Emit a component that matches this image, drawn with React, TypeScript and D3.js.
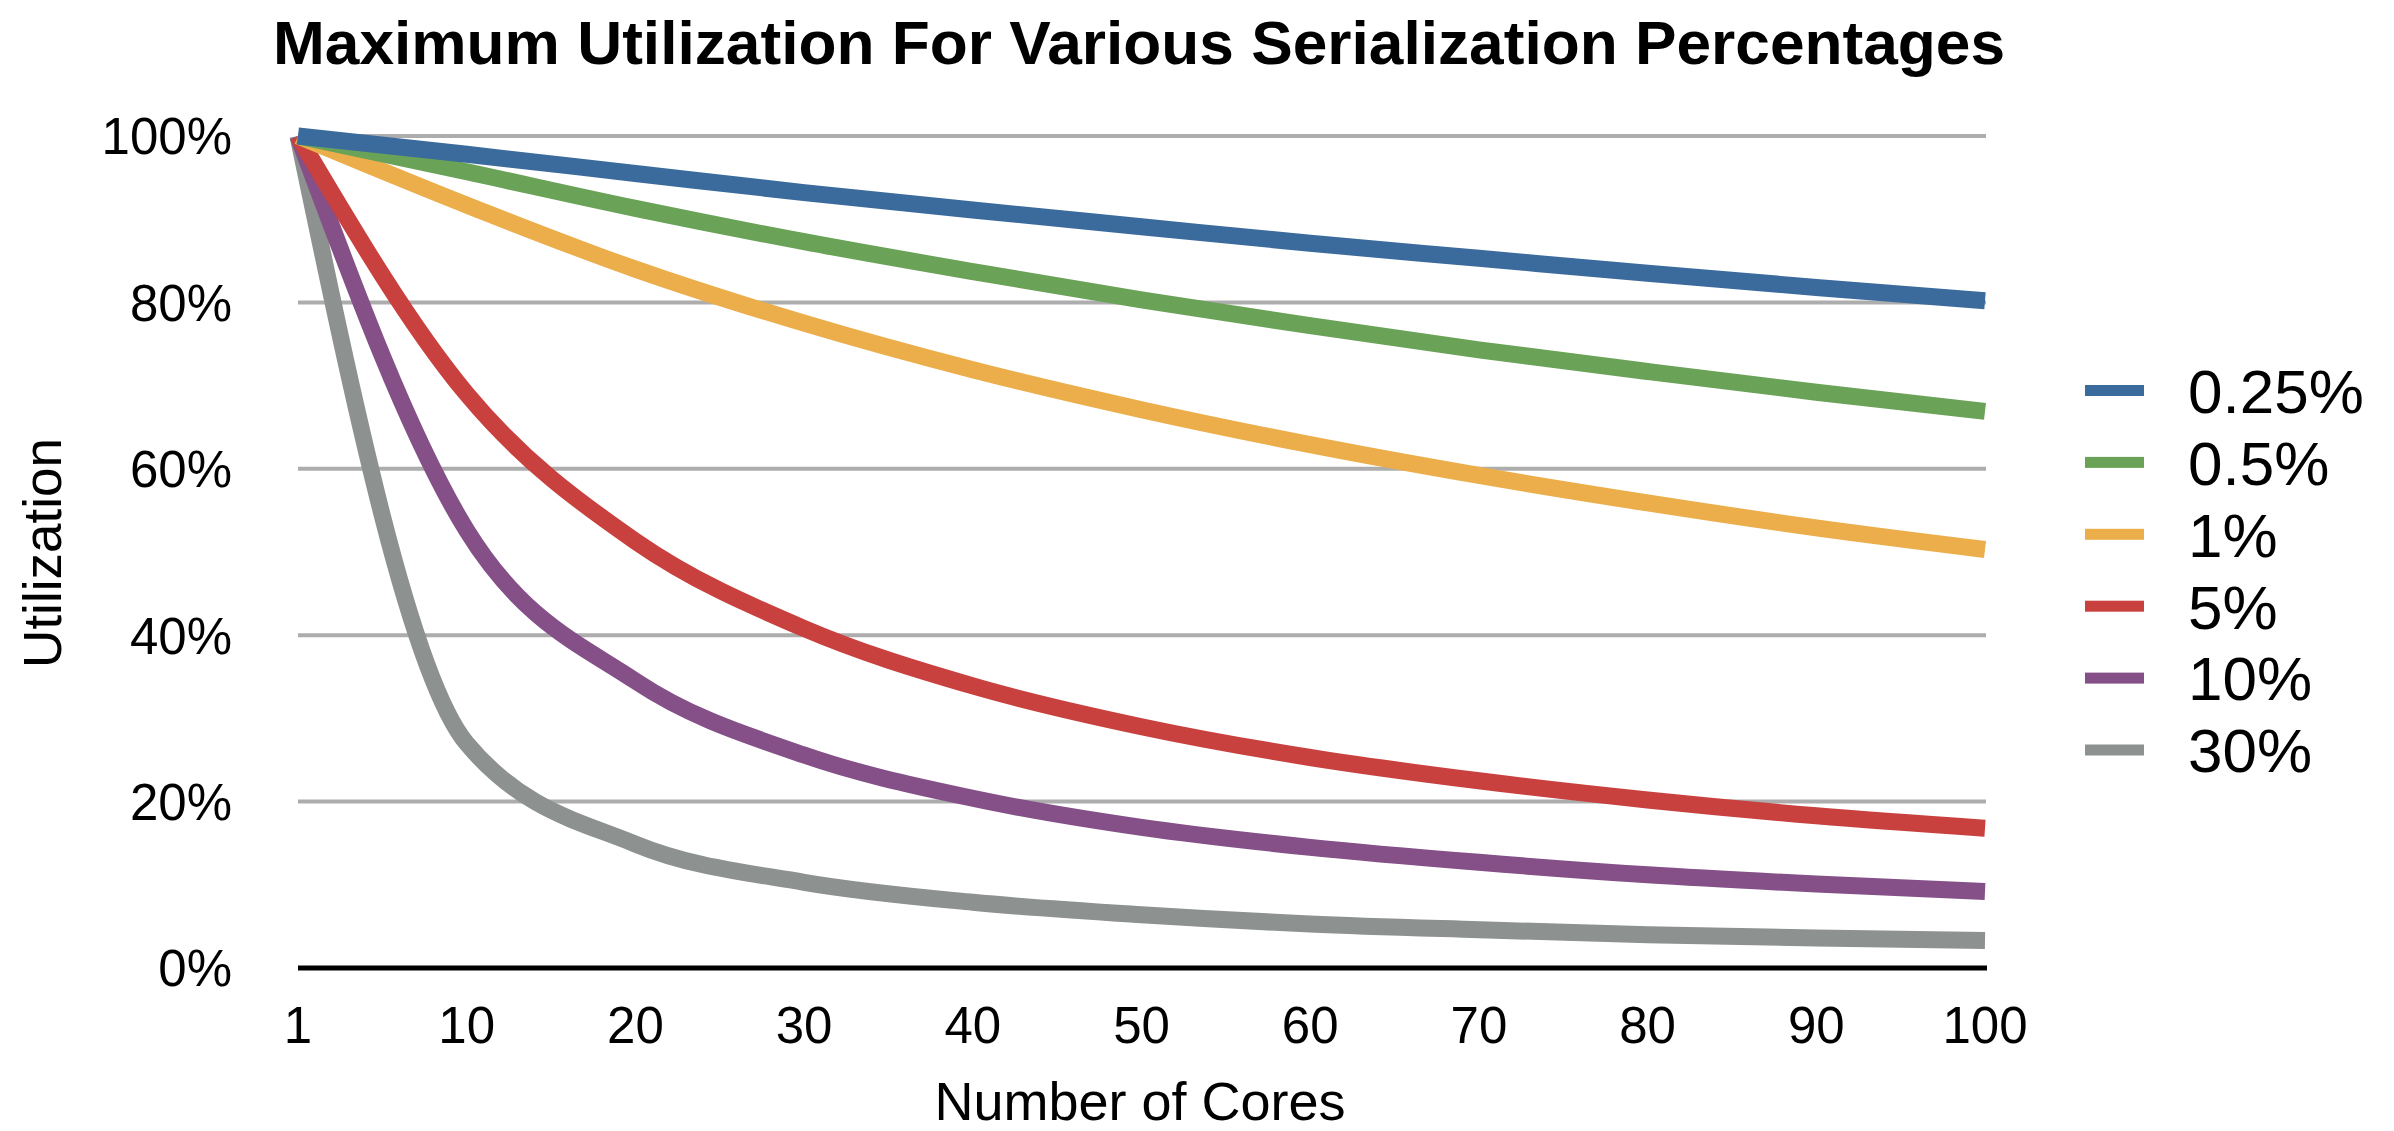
import React from "react";
import * as d3 from "d3";

const cores = ["1", "10", "20", "30", "40", "50", "60", "70", "80", "90", "100"];
const seriesNames = ["0.25%", "0.5%", "1%", "5%", "10%", "30%"];
const seriesColors = ["#3b6b9c", "#6aa358", "#ebae4b", "#c8413f", "#845087", "#8d9190"];

const s025 = [1.0, 0.978, 0.955, 0.932, 0.911, 0.891, 0.871, 0.853, 0.835, 0.818, 0.802];
const s05 = [1.0, 0.957, 0.913, 0.873, 0.837, 0.803, 0.772, 0.743, 0.717, 0.692, 0.669];
const s1 = [1.0, 0.917, 0.84, 0.775, 0.719, 0.671, 0.629, 0.592, 0.559, 0.529, 0.503];
const s5 = [1.0, 0.69, 0.513, 0.408, 0.339, 0.29, 0.253, 0.225, 0.202, 0.183, 0.168];
const s10 = [1.0, 0.526, 0.345, 0.256, 0.204, 0.169, 0.145, 0.127, 0.112, 0.101, 0.092];
const s30 = [1.0, 0.27, 0.149, 0.103, 0.079, 0.064, 0.053, 0.046, 0.04, 0.036, 0.033];

const seriesValues = [s025, s05, s1, s5, s10, s30];
const yTicks = [0, 0.2, 0.4, 0.6, 0.8, 1.0];

const W = 2394;
const H = 1131;
const FONT = "'Liberation Sans', Arial, Helvetica, sans-serif";

export default function App() {
  const x = d3.scalePoint<string>().domain(cores).range([298, 1985]);
  const y = d3.scaleLinear().domain([0, 1]).range([968, 136]);
  const line = d3
    .line<number>()
    .x((_, i) => x(cores[i]) as number)
    .y((d) => y(d))
    .curve(d3.curveMonotoneX);

  const order = seriesValues.map((_, i) => i).reverse();

  return (
    <svg
      width={W}
      height={H}
      viewBox={`0 0 ${W} ${H}`}
      style={{ position: "absolute", left: 0, top: 0, background: "#fff" }}
      fontFamily={FONT}
    >
      <rect x={0} y={0} width={W} height={H} fill="#fff" />
      <text
        x={1139}
        y={64}
        textAnchor="middle"
        fontSize={61}
        fontWeight="bold"
        textLength={1732}
        lengthAdjust="spacingAndGlyphs"
        fill="#000"
      >
        Maximum Utilization For Various Serialization Percentages
      </text>

      {yTicks.map((t) => (
        <g key={t}>
          {t > 0 && (
            <line x1={298} x2={1986} y1={y(t)} y2={y(t)} stroke="#adadad" strokeWidth={4} />
          )}
          <text x={232} y={y(t)} dy="0.36em" textAnchor="end" fontSize={51} fill="#000">
            {Math.round(t * 100) + "%"}
          </text>
        </g>
      ))}

      {order.map((i) => (
        <path
          key={seriesNames[i]}
          d={line(seriesValues[i]) || ""}
          fill="none"
          stroke={seriesColors[i]}
          strokeWidth={17}
          strokeLinecap="butt"
          strokeLinejoin="round"
        />
      ))}

      <line x1={298} x2={1987} y1={y(0)} y2={y(0)} stroke="#000" strokeWidth={5} />

      {cores.map((c) => (
        <text key={c} x={x(c)} y={1043} textAnchor="middle" fontSize={51} fill="#000">
          {c}
        </text>
      ))}

      <text
        transform={`translate(61,553) rotate(-90)`}
        textAnchor="middle"
        fontSize={53}
        fill="#000"
      >
        Utilization
      </text>
      <text x={1140} y={1120} textAnchor="middle" fontSize={54} fill="#000">
        Number of Cores
      </text>

      {seriesNames.map((n, i) => {
        const cy = 390.5 + i * 71.9;
        return (
          <g key={n}>
            <rect x={2085} y={cy - 5.5} width={59} height={11} fill={seriesColors[i]} />
            <text x={2188} y={cy} dy="0.36em" fontSize={62} fill="#000">
              {n}
            </text>
          </g>
        );
      })}
    </svg>
  );
}
